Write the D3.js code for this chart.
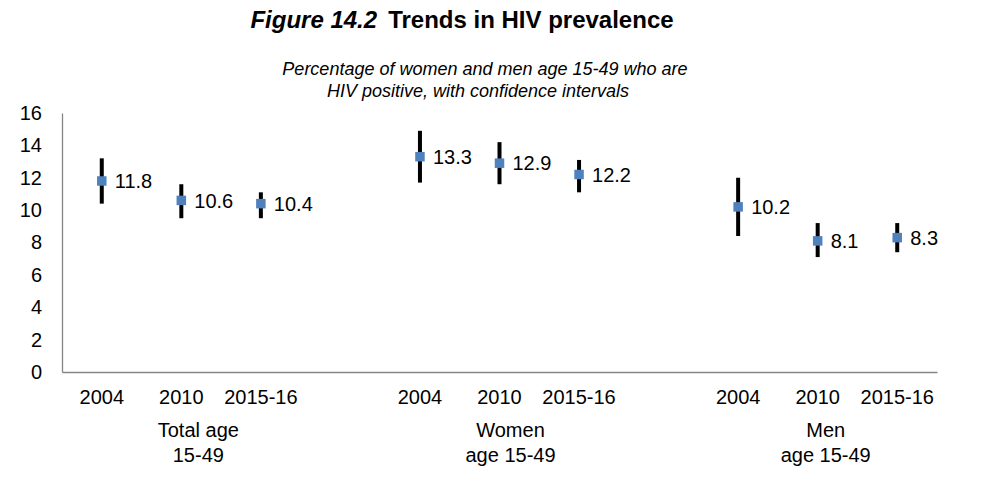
<!DOCTYPE html>
<html>
<head>
<meta charset="utf-8">
<script src="https://cdn.jsdelivr.net/npm/d3@7"></script>
<style>
  html, body { margin: 0; padding: 0; background: #fff; }
  svg { display: block; font-family: "Liberation Sans", Arial, sans-serif; }
</style>
</head>
<body>
<svg id="chart" width="982" height="479"></svg>
<script>
// ---- data ----
const groups = ["Total age|15-49", "Women|age 15-49", "Men|age 15-49"];
const years = ["2004", "2010", "2015-16"];
const prevalence = [11.8, 10.6, 10.4, 13.3, 12.9, 12.2, 10.2, 8.1, 8.3];
const ciLow  = [10.4, 9.5, 9.5, 11.7, 11.6, 11.1, 8.4, 7.1, 7.4];
const ciHigh = [13.2, 11.6, 11.1, 14.9, 14.2, 13.1, 12.0, 9.2, 9.2];
const yTicks = [0, 2, 4, 6, 8, 10, 12, 14, 16];

// ---- build slots (3 years per group, a blank slot between groups) ----
const slots = [];
const points = [];
groups.forEach((g, gi) => {
  years.forEach((yr, yi) => {
    const key = gi + "|" + yr;
    slots.push(key);
    const i = gi * years.length + yi;
    points.push({ key, group: gi, year: yr, v: prevalence[i], lo: ciLow[i], hi: ciHigh[i] });
  });
  if (gi < groups.length - 1) slots.push("gap" + gi);
});

const svg = d3.select("#chart");
const mLeft = 62, mRight = 937, mTop = 113, mBottom = 372;
const FS = 20;

const x = d3.scaleBand().domain(slots).range([mLeft, mRight]).padding(0);
const y = d3.scaleLinear().domain([0, 16]).range([mBottom, mTop]);
const cx = k => x(k) + x.bandwidth() / 2;

// title
const title = svg.append("text")
  .attr("x", 462).attr("y", 28)
  .attr("text-anchor", "middle")
  .attr("font-size", 24).attr("font-weight", "bold").attr("fill", "#000");
title.append("tspan").attr("font-style", "italic").text("Figure 14.2");
title.append("tspan").attr("dx", 11).text("Trends in HIV prevalence");

// subtitle
const sub = svg.append("g").attr("font-size", 18).attr("font-style", "italic").attr("text-anchor", "middle");
sub.append("text").attr("x", 485).attr("y", 75).text("Percentage of women and men age 15-49 who are");
sub.append("text").attr("x", 478).attr("y", 97).text("HIV positive, with confidence intervals");

// axes
const yAxis = d3.axisLeft(y).tickValues(yTicks).tickSize(0).tickPadding(20).tickSizeOuter(0);
const gy = svg.append("g").attr("transform", `translate(${mLeft},0)`).call(yAxis);
gy.select(".domain").attr("stroke", "#868686").attr("stroke-width", 1.3);
gy.selectAll("text").attr("font-size", FS).attr("fill", "#000").attr("font-family", "Liberation Sans, Arial, sans-serif");

const xAxis = d3.axisBottom(x).tickSize(0).tickSizeOuter(0).tickPadding(18)
  .tickFormat(k => k.startsWith("gap") ? "" : k.split("|")[1]);
const gx = svg.append("g").attr("transform", `translate(0,${mBottom})`).call(xAxis);
gx.select(".domain").attr("stroke", "#868686").attr("stroke-width", 1.3);
gx.selectAll("text").attr("font-size", FS).attr("fill", "#000").attr("font-family", "Liberation Sans, Arial, sans-serif");

// group labels
const groupDx = [17, 11, 8];
groups.forEach((g, gi) => {
  const center = cx(gi + "|" + years[1]) + groupDx[gi];
  const lines = g.split("|");
  const t = svg.append("text").attr("text-anchor", "middle").attr("font-size", FS).attr("fill", "#000");
  lines.forEach((ln, li) => {
    t.append("tspan").attr("x", center).attr("y", 437 + li * 25).text(ln);
  });
});

// error bars
svg.append("g").selectAll("line").data(points).join("line")
  .attr("x1", d => cx(d.key)).attr("x2", d => cx(d.key))
  .attr("y1", d => y(d.hi)).attr("y2", d => y(d.lo))
  .attr("stroke", "#000").attr("stroke-width", 4);

// markers
const ms = 9.5;
svg.append("g").selectAll("rect").data(points).join("rect")
  .attr("x", d => cx(d.key) - ms / 2).attr("y", d => y(d.v) - ms / 2)
  .attr("width", ms).attr("height", ms)
  .attr("fill", "#4F81BD");

// value labels
svg.append("g").selectAll("text").data(points).join("text")
  .attr("x", d => cx(d.key) + 13).attr("y", d => y(d.v))
  .attr("dy", "0.36em")
  .attr("font-size", FS).attr("fill", "#000")
  .text(d => d.v.toFixed(1));
</script>
</body>
</html>
